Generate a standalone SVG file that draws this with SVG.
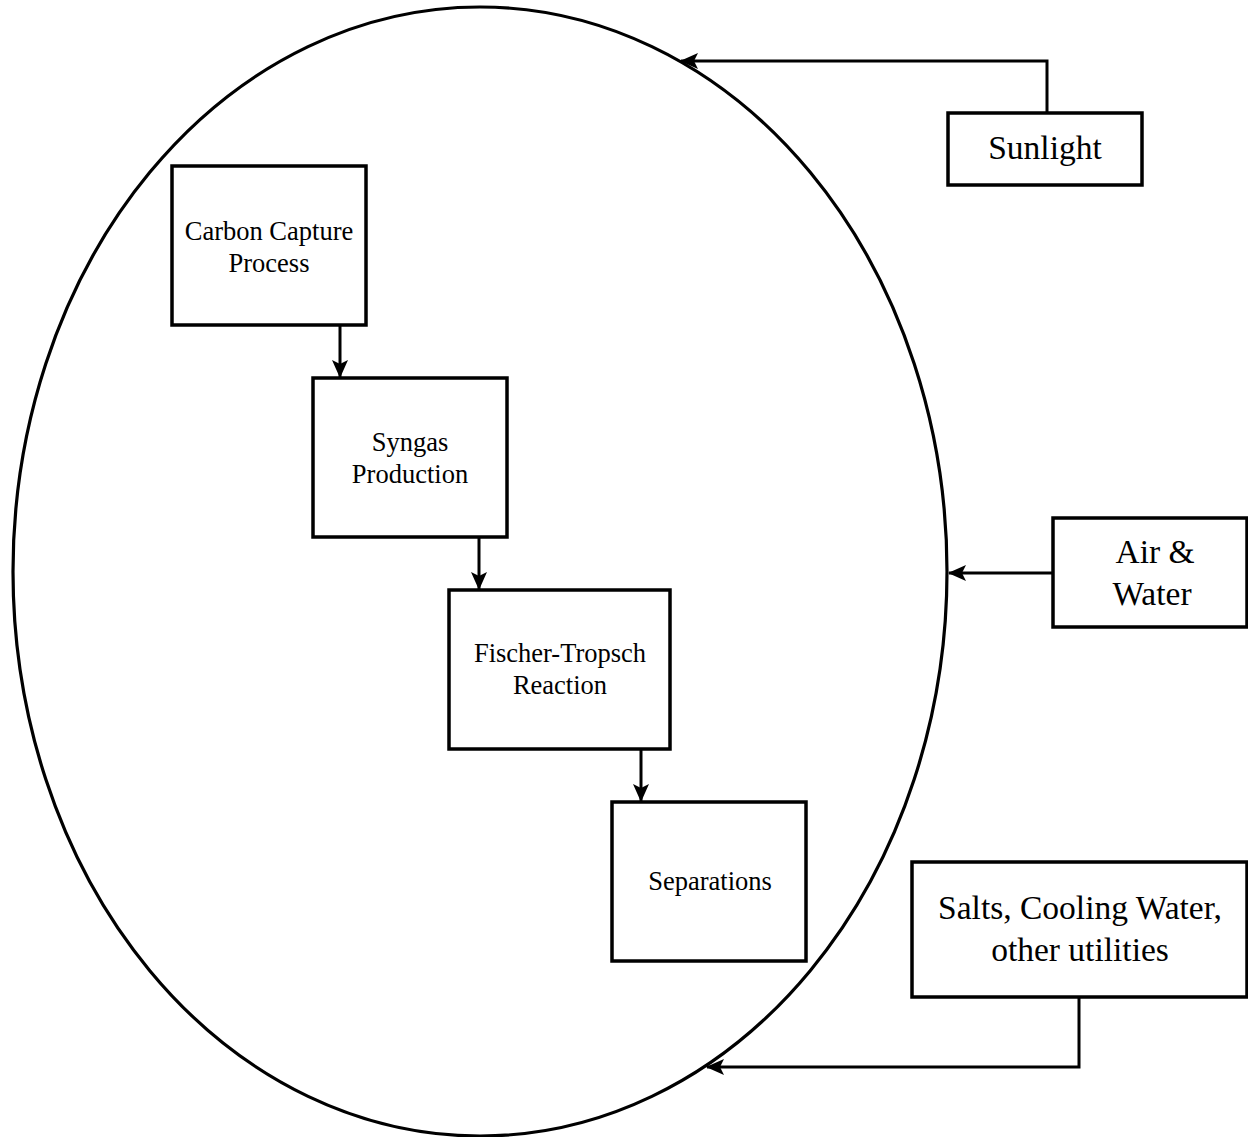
<svg xmlns="http://www.w3.org/2000/svg" width="1248" height="1137" viewBox="0 0 1248 1137">
<style>
.box{fill:#fff;stroke:#000;stroke-width:3.5}
.con{fill:none;stroke:#000;stroke-width:3}
.t{font-family:"Liberation Serif","Times New Roman",serif;fill:#000;text-anchor:middle}
.s{font-size:26.5px}
.l{font-size:33.5px}
</style>
<defs>
<marker id="ah" markerWidth="18" markerHeight="16" refX="17" refY="8" orient="auto" markerUnits="userSpaceOnUse">
<path d="M0,0 L18,8 L0,16 L4,8 Z" fill="#000"/>
</marker>
</defs>
<rect width="1248" height="1137" fill="#fff"/>
<g id="system">
<ellipse cx="480" cy="571.5" rx="467" ry="564.5" fill="none" stroke="#000" stroke-width="3.2"/>
</g>
<g id="connectors">
<path class="con" d="M1047,113 V61 H681" marker-end="url(#ah)"/>
<path class="con" d="M1053,573 H949" marker-end="url(#ah)"/>
<path class="con" d="M1079,997 V1067 H707" marker-end="url(#ah)"/>
<path class="con" d="M340,325 V377" marker-end="url(#ah)"/>
<path class="con" d="M479,537 V589" marker-end="url(#ah)"/>
<path class="con" d="M641,749 V801" marker-end="url(#ah)"/>
</g>
<g id="sunlight">
<rect class="box" x="948" y="113" width="194" height="72"/>
<text class="t l" x="1045" y="159">Sunlight</text>
</g>
<g id="carbon-capture">
<rect class="box" x="172" y="166" width="194" height="159"/>
<text class="t s" x="269" y="240">Carbon Capture</text>
<text class="t s" x="269" y="272">Process</text>
</g>
<g id="syngas">
<rect class="box" x="313" y="378" width="194" height="159"/>
<text class="t s" x="410" y="451">Syngas</text>
<text class="t s" x="410" y="483">Production</text>
</g>
<g id="fischer-tropsch">
<rect class="box" x="449" y="590" width="221" height="159"/>
<text class="t s" x="560" y="662">Fischer-Tropsch</text>
<text class="t s" x="560" y="694">Reaction</text>
</g>
<g id="separations">
<rect class="box" x="612" y="802" width="194" height="159"/>
<text class="t s" x="710" y="890">Separations</text>
</g>
<g id="air-water">
<rect class="box" x="1053" y="518" width="194" height="109"/>
<text class="t l" x="1155" y="563">Air &amp;</text>
<text class="t l" x="1152" y="605">Water</text>
</g>
<g id="utilities">
<rect class="box" x="912" y="862" width="335" height="135"/>
<text class="t l" x="1080" y="919">Salts, Cooling Water,</text>
<text class="t l" x="1080" y="961">other utilities</text>
</g>
</svg>
